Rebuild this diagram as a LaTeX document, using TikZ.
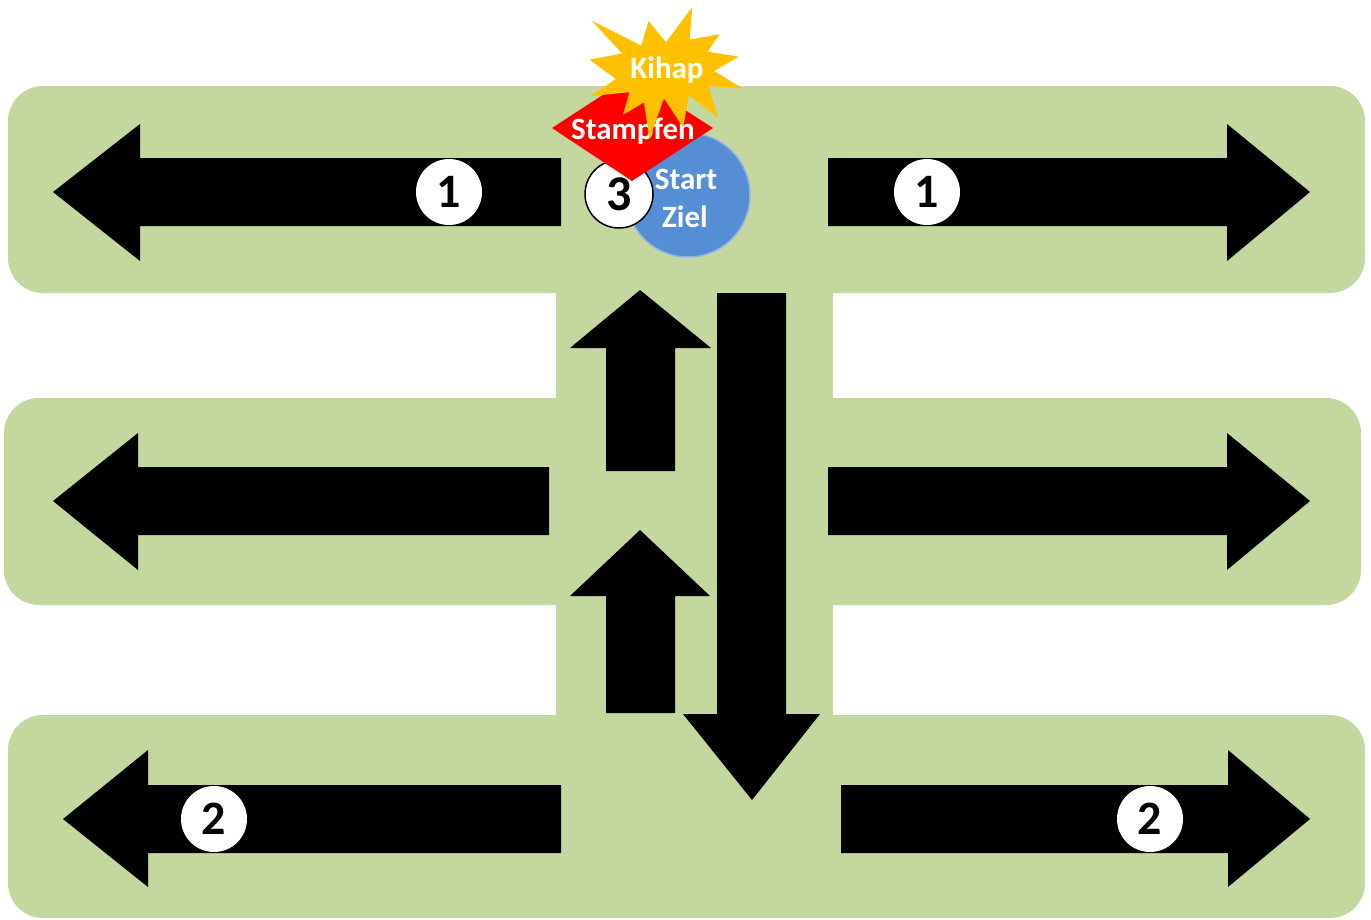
\documentclass[tikz,border=0pt]{standalone}
\usepackage{fontspec}
\setmainfont{Carlito}
\definecolor{bandgreen}{HTML}{C4D79E}
\definecolor{startblue}{HTML}{558ED5}
\definecolor{startedge}{HTML}{8EB4E3}
\definecolor{kihapyellow}{HTML}{FFC000}
\begin{document}
\begin{tikzpicture}[x=1pt,y=-1pt,
  band/.style={fill=bandgreen, rounded corners=35pt},
  blockarrow/.style={fill=black},
  numcircle/.style={circle, fill=white, inner sep=0pt, minimum size=66pt, font=\fontsize{48}{48}\selectfont\bfseries},
  whitetext/.style={text=white, inner sep=0pt, font=\fontsize{31}{31}\selectfont\bfseries}]
\useasboundingbox (0,0) rectangle (1371,919);
% bands
\fill[bandgreen] (556,280) rectangle (833,730);
\fill[band] (8,86) rectangle (1365,293);
\fill[band] (4,398) rectangle (1361,605);
\fill[band] (8,715) rectangle (1365,918);
% horizontal arrows
\fill[blockarrow] (53,192) -- (140,124) -- (140,158) -- (561,158) -- (561,226) -- (140,226) -- (140,261) -- cycle;
\fill[blockarrow] (828,158) -- (1227,158) -- (1227,124) -- (1310,192) -- (1227,261) -- (1227,226) -- (828,226) -- cycle;
\fill[blockarrow] (53,501) -- (138,433) -- (138,467) -- (549,467) -- (549,535) -- (138,535) -- (138,570) -- cycle;
\fill[blockarrow] (828,467) -- (1227,467) -- (1227,433) -- (1310,501) -- (1227,570) -- (1227,535) -- (828,535) -- cycle;
\fill[blockarrow] (63,819) -- (148,750) -- (148,785) -- (561,785) -- (561,853) -- (148,853) -- (148,887) -- cycle;
\fill[blockarrow] (841,785) -- (1228,785) -- (1228,750) -- (1310,819) -- (1228,887) -- (1228,853) -- (841,853) -- cycle;
% vertical arrows
\fill[blockarrow] (640,290) -- (711,348) -- (675,348) -- (675,471) -- (606,471) -- (606,348) -- (570,348) -- cycle;
\fill[blockarrow] (640,530) -- (710,596) -- (675,596) -- (675,713) -- (606,713) -- (606,596) -- (570,596) -- cycle;
\fill[blockarrow] (717,293) -- (786,293) -- (786,714) -- (820,714) -- (752,800) -- (683,714) -- (717,714) -- cycle;
% number circles
\node[numcircle] (n1l) at (449,192) {1};
\node[numcircle] (n1r) at (927,192) {1};
\node[numcircle] (n2l) at (214,819) {2};
\node[numcircle] (n2r) at (1150,819) {2};
% start / ziel
\node[circle, fill=startblue, draw=startedge, line width=1.5pt, minimum size=124pt, inner sep=0pt] (start) at (688,195) {};
\node[whitetext, anchor=base] (starttxt) at (686,189) {Start};
\node[whitetext, anchor=base] (zieltxt) at (685,227) {Ziel};
\node[numcircle, draw=black, line width=1.5pt, minimum size=68pt, font=\fontsize{50}{50}\selectfont\bfseries] (n3) at (619,194) {3};
% stampfen diamond
\fill[red] (552,128) -- (632,76) -- (713,128) -- (632,181) -- cycle;
\node[whitetext, anchor=base] (stampfen) at (633,139) {Stampfen};
% kihap explosion
\fill[kihapyellow] (665.9,42.4) -- (692.3,7) -- (689.7,39.5) -- (719.6,34.2) -- (707.7,51.7) -- (738.8,56.7) -- (714.1,71.0) -- (742.4,88.2) -- (708.7,86.1) -- (717.9,117.6) -- (688.7,95.3) -- (683.2,127.6) -- (664.0,98.3) -- (649.5,139) -- (644.0,102.5) -- (623.1,114.7) -- (629.5,92.2) -- (590.4,96.1) -- (615.8,79.0) -- (589.4,59.6) -- (622.2,53.5) -- (592.0,21.0) -- (641.2,45.6) -- (648.6,21.0) -- cycle;
\node[whitetext, anchor=base] (kihap) at (667,78) {Kihap};
\end{tikzpicture}
\end{document}
